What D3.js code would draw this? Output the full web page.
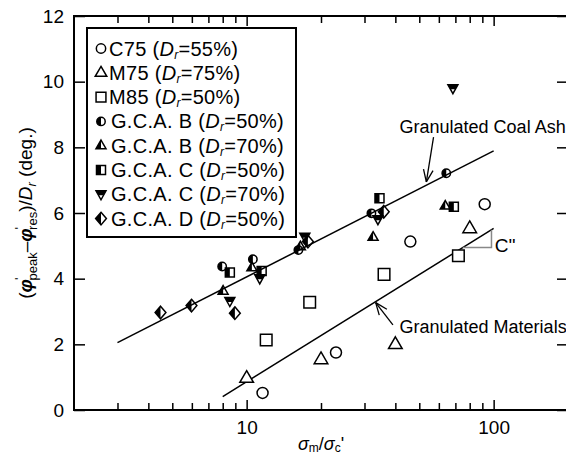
<!DOCTYPE html>
<html>
<head>
<meta charset="utf-8">
<script src="https://cdn.jsdelivr.net/npm/d3@7"></script>
<style>
  body { margin: 0; background: #fff; }
  svg { display: block; font-family: "Liberation Sans", Arial, sans-serif; }
</style>
</head>
<body>
<div id="chart"></div>
<script>
// values (x = sigma_m/sigma_c', y = (phi_peak - phi_res)/Dr)
const c75X = [11.6, 23, 46, 92];
const c75Y = [0.52, 1.75, 5.13, 6.27];
const m75X = [10, 20, 40, 80];
const m75Y = [0.97, 1.54, 2.0, 5.53];
const m85X = [12, 18, 36, 72];
const m85Y = [2.13, 3.28, 4.13, 4.70];
const gcaB50X = [7.96, 10.6, 16.2, 32, 64.3];
const gcaB50Y = [4.37, 4.59, 4.87, 5.99, 7.21];
const gcaB70X = [8.03, 10.5, 16.5, 32.5, 63.7];
const gcaB70Y = [3.62, 4.33, 4.97, 5.26, 6.21];
const gcaC50X = [8.55, 11.5, 34.5, 69];
const gcaC50Y = [4.19, 4.23, 6.45, 6.19];
const gcaC70X = [8.55, 11.3, 17.2, 34, 68.4];
const gcaC70Y = [3.32, 4.01, 5.28, 5.81, 9.8];
const gcaDX = [4.48, 5.98, 8.96, 17.7, 35.9];
const gcaDY = [2.97, 3.18, 2.95, 5.13, 6.04];

// fitted lines (end points)
const coalAshLine = [[3, 2.05], [100, 7.89]];
const materialsLine = [[8, 0.41], [100, 5.53]];

const legendNames = ["C75", "M75", "M85", "G.C.A. B", "G.C.A. B", "G.C.A. C", "G.C.A. C", "G.C.A. D"];
const legendDr = ["55%", "75%", "50%", "50%", "70%", "50%", "70%", "50%"];

const xMajor = [10, 100];
const xMinor = [3, 4, 5, 6, 7, 8, 9, 20, 30, 40, 50, 60, 70, 80, 90];
const yTicks = [0, 2, 4, 6, 8, 10, 12];

const series = [
  {x: c75X, y: c75Y, sym: "circle"},
  {x: m75X, y: m75Y, sym: "triangle"},
  {x: m85X, y: m85Y, sym: "square"},
  {x: gcaB50X, y: gcaB50Y, sym: "halfCircle"},
  {x: gcaB70X, y: gcaB70Y, sym: "halfTriangle"},
  {x: gcaC50X, y: gcaC50Y, sym: "halfSquare"},
  {x: gcaC70X, y: gcaC70Y, sym: "halfTriDown"},
  {x: gcaDX, y: gcaDY, sym: "halfDiamond"},
];

const W = 566, H = 457;
const svg = d3.select("#chart").append("svg").attr("width", W).attr("height", H);

const x = d3.scaleLog().domain([2, 200]).range([74, 568]);
const y = d3.scaleLinear().domain([0, 12]).range([410, 16]);

// symbol outlines + filled halves, centred on 0,0
const symbols = {
  circle: () => ({outline: `M5.5,0A5.5,5.5 0 1,1 -5.5,0A5.5,5.5 0 1,1 5.5,0Z`}),
  triangle: () => ({outline: `M0,-7.5L6.8,4.2L-6.8,4.2Z`}),
  square: () => ({outline: `M-5.8,-5.8H5.8V5.8H-5.8Z`}),
  halfCircle: () => ({outline: `M4.2,0A4.2,4.2 0 1,1 -4.2,0A4.2,4.2 0 1,1 4.2,0Z`,
                      fill: `M0,-4.2A4.2,4.2 0 0,0 0,4.2Z`}),
  halfTriangle: () => ({outline: `M0,-5.6L5,3L-5,3Z`, fill: `M0,-5.6L-5,3L0,3Z`}),
  halfSquare: () => ({outline: `M-4.5,-4.5H4.5V4.5H-4.5Z`, fill: `M-4.5,-4.5H0V4.5H-4.5Z`}),
  halfTriDown: () => ({outline: `M-5,-3.5L5,-3.5L0,5.5Z`, fill: `M-5,-3.5L5,-3.5L2.5,1L-2.5,1Z`}),
  halfDiamond: () => ({outline: `M0,-6.3L5.4,0L0,6.3L-5.4,0Z`, fill: `M0,-6.3L-5.4,0L0,6.3Z`}),
};

function drawSymbol(g, sym, scale) {
  const p = symbols[sym]();
  const k = scale || 1;
  const s = g.append("g").attr("transform", `scale(${k})`);
  if (p.fill) s.append("path").attr("d", p.fill).attr("fill", "#000");
  s.append("path").attr("d", p.outline).attr("fill", p.fill ? "none" : "#fff")
    .attr("stroke", "#000").attr("stroke-width", 1.5 / k);
}

// axes: ticks inward on all four sides
const axisG = svg.append("g");
axisG.append("g").attr("transform", "translate(0,410)")
  .call(d3.axisBottom(x).tickValues(xMajor).tickSize(-10).tickPadding(11).tickFormat(d3.format("d")));
axisG.append("g").attr("transform", "translate(0,410)")
  .call(d3.axisBottom(x).tickValues(xMinor).tickSize(-7).tickFormat(""));
axisG.append("g").attr("transform", "translate(0,16)")
  .call(d3.axisTop(x).tickValues(xMajor).tickSize(-10).tickFormat(""));
axisG.append("g").attr("transform", "translate(0,16)")
  .call(d3.axisTop(x).tickValues(xMinor).tickSize(-7).tickFormat(""));
axisG.append("g").attr("transform", "translate(74,0)")
  .call(d3.axisLeft(y).tickValues(yTicks).tickSize(-11).tickPadding(10));
axisG.append("g").attr("transform", "translate(568,0)")
  .call(d3.axisRight(y).tickValues(yTicks).tickSize(-11).tickFormat(""));
axisG.selectAll(".domain").remove();
axisG.selectAll(".tick line").attr("stroke", "#000").attr("stroke-width", 1.5);
axisG.selectAll(".tick text").attr("font-size", 19).attr("fill", "#000")
  .attr("font-family", "Liberation Sans, Arial, sans-serif");

svg.append("rect").attr("x", 74).attr("y", 16).attr("width", 568 - 74).attr("height", 410 - 16)
  .attr("fill", "none").attr("stroke", "#000").attr("stroke-width", 2);

// fitted lines
const line = d3.line().x(d => x(d[0])).y(d => y(d[1]));
[coalAshLine, materialsLine].forEach(l => {
  svg.append("path").attr("d", line(l)).attr("fill", "none").attr("stroke", "#000").attr("stroke-width", 1.5);
});

// C'' slope triangle on the materials line
const lineAt = (l, v) => {
  const t = (Math.log10(v) - Math.log10(l[0][0])) / (Math.log10(l[1][0]) - Math.log10(l[0][0]));
  return l[0][1] + t * (l[1][1] - l[0][1]);
};
const c1 = 75, c2 = 98;
svg.append("path")
  .attr("d", line([[c1, lineAt(materialsLine, c1)], [c2, lineAt(materialsLine, c1)], [c2, lineAt(materialsLine, c2)]]))
  .attr("fill", "none").attr("stroke", "#888").attr("stroke-width", 1.5);
svg.append("text").attr("x", x(101)).attr("y", y(4.81)).attr("font-size", 19).text("C''");

// points
series.forEach(s => {
  s.x.forEach((v, i) => {
    const g = svg.append("g").attr("transform", `translate(${x(v)},${y(s.y[i])})`);
    drawSymbol(g, s.sym);
  });
});

// annotations with open arrow heads
function arrow(from, to, label, labelPos) {
  const x1 = x(from[0]), y1 = y(from[1]), x2 = x(to[0]), y2 = y(to[1]);
  svg.append("line").attr("x1", x1).attr("y1", y1).attr("x2", x2).attr("y2", y2)
    .attr("stroke", "#000").attr("stroke-width", 1.3);
  const a = Math.atan2(y2 - y1, x2 - x1), len = 13, spread = 0.38;
  [a + Math.PI - spread, a + Math.PI + spread].forEach(b => {
    svg.append("line").attr("x1", x2).attr("y1", y2)
      .attr("x2", x2 + len * Math.cos(b)).attr("y2", y2 + len * Math.sin(b))
      .attr("stroke", "#000").attr("stroke-width", 1.3);
  });
  svg.append("text").attr("x", x(labelPos[0])).attr("y", y(labelPos[1]))
    .attr("font-size", 18).text(label);
}
arrow([57.1, 8.31], [53.4, 6.95], "Granulated Coal Ash", [41.6, 8.45]);
arrow([39.1, 2.59], [33.3, 3.27], "Granulated Materials", [41.6, 2.35]);

// legend
const leg = svg.append("g");
leg.append("rect").attr("x", 87).attr("y", 28).attr("width", 209).attr("height", 209)
  .attr("fill", "#fff").attr("stroke", "#000").attr("stroke-width", 2);
series.forEach((s, i) => {
  const cy = 48.5 + i * 24.3;
  const g = leg.append("g").attr("transform", `translate(101,${cy})`);
  drawSymbol(g, s.sym, i < 3 ? 0.85 : 1);
  const t = leg.append("text").attr("x", i < 3 ? 109 : 111).attr("y", cy + 7)
    .attr("font-size", 20).attr("letter-spacing", 0.3);
  t.append("tspan").text(legendNames[i] + " (");
  t.append("tspan").attr("font-style", "italic").text("D");
  t.append("tspan").attr("font-style", "italic").attr("font-size", 12).attr("dy", 3).text("r");
  t.append("tspan").attr("dy", -3).text("=" + legendDr[i] + ")");
});

// y axis title
const yt = svg.append("text").attr("transform", "translate(32,213) rotate(-90)")
  .attr("text-anchor", "middle").attr("font-size", 19);
yt.append("tspan").text("(");
yt.append("tspan").attr("font-style", "italic").attr("font-weight", "bold").text("\u03c6");
yt.append("tspan").attr("font-size", 13).attr("dy", -8).attr("dx", -1).text("'");
yt.append("tspan").attr("font-size", 13).attr("dy", 13).attr("dx", -3).text("peak");
yt.append("tspan").attr("dy", -5).text("\u2013");
yt.append("tspan").attr("font-style", "italic").attr("font-weight", "bold").text("\u03c6");
yt.append("tspan").attr("font-size", 13).attr("dy", -8).attr("dx", -1).text("'");
yt.append("tspan").attr("font-size", 13).attr("dy", 13).attr("dx", -3).text("res");
yt.append("tspan").attr("dy", -5).text(")/");
yt.append("tspan").attr("font-style", "italic").text("D");
yt.append("tspan").attr("font-style", "italic").attr("font-size", 13).attr("dy", 4).text("r");
yt.append("tspan").attr("dy", -4).text(" (deg.)");

// x axis title (sits at the bottom edge, as in the original figure)
const xt = svg.append("text").attr("x", 321).attr("y", 450)
  .attr("text-anchor", "middle").attr("font-size", 18);
xt.append("tspan").attr("font-style", "italic").text("\u03c3");
xt.append("tspan").attr("font-size", 12).attr("dy", 2).text("m");
xt.append("tspan").attr("dy", -2).text("/");
xt.append("tspan").attr("font-style", "italic").text("\u03c3");
xt.append("tspan").attr("font-size", 12).attr("dy", 2).text("c");
xt.append("tspan").attr("dy", -2).text("'");
</script>
</body>
</html>
